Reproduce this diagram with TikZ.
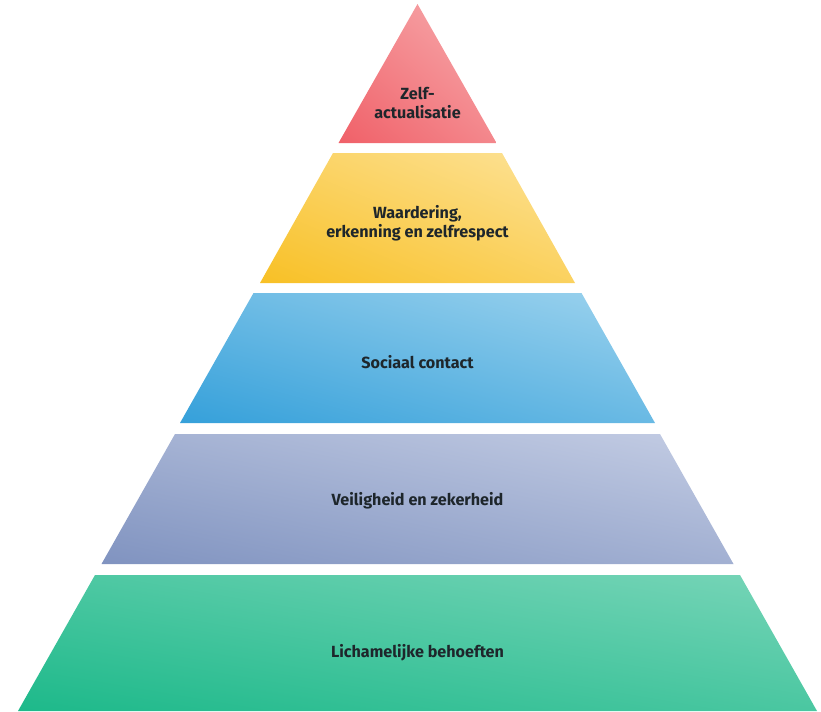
\documentclass[tikz,border=0pt]{standalone}
\usepackage{fontspec}
\setmainfont{Fira Sans}
\usepackage{tikz}
\usetikzlibrary{shadings}
\definecolor{redDark}{HTML}{F06068}
\definecolor{redLight}{HTML}{F7AEB0}
\definecolor{yellowDark}{HTML}{F8C025}
\definecolor{yellowLight}{HTML}{FDE39A}
\definecolor{blueDark}{HTML}{35A0DA}
\definecolor{blueLight}{HTML}{9DD3EE}
\definecolor{greyDark}{HTML}{8093C0}
\definecolor{greyLight}{HTML}{C4CDE4}
\definecolor{greenDark}{HTML}{1DB98A}
\definecolor{greenLight}{HTML}{78D5B8}
\definecolor{textDark}{HTML}{1E262B}
\tikzset{
    redLevel/.style={lower left=redDark, upper right=redLight, upper left=redDark!50!redLight, lower right=redDark!50!redLight},
    yellowLevel/.style={lower left=yellowDark, upper right=yellowLight, upper left=yellowDark!50!yellowLight, lower right=yellowDark!50!yellowLight},
    blueLevel/.style={lower left=blueDark, upper right=blueLight, upper left=blueDark!50!blueLight, lower right=blueDark!50!blueLight},
    greyLevel/.style={lower left=greyDark, upper right=greyLight, upper left=greyDark!50!greyLight, lower right=greyDark!50!greyLight},
    greenLevel/.style={lower left=greenDark, upper right=greenLight, upper left=greenDark!50!greenLight, lower right=greenDark!50!greenLight},
    levelText/.style={font=\fontsize{9.2}{10.6}\selectfont\bfseries, text=textDark, align=center}
}
\begin{document}
\begin{tikzpicture}[x=0.02cm, y=-0.02cm]
    \useasboundingbox (0,0) rectangle (821,711);

    \shade[redLevel] (417.5,4) -- (496.5,143) -- (338.5,143) -- cycle;
    \shade[yellowLevel] (333,153) -- (502,153) -- (575,283) -- (260,283) -- cycle;
    \shade[blueLevel] (253.5,293) -- (581.5,293) -- (655,423) -- (180,423) -- cycle;
    \shade[greyLevel] (175,434) -- (660,434) -- (733.5,564) -- (101.5,564) -- cycle;
    \shade[greenLevel] (95,575) -- (740,575) -- (817,711) -- (18,711) -- cycle;

    \node (001) [levelText] at (417.5,103) {Zelf-\\actualisatie};
    \node (002) [levelText] at (417.5,223) {Waardering,\\erkenning en zelfrespect};
    \node (003) [levelText] at (417.5,362) {Sociaal contact};
    \node (004) [levelText] at (417.5,501) {Veiligheid en zekerheid};
    \node (005) [levelText] at (417.5,653) {Lichamelijke behoeften};

\end{tikzpicture}
\end{document}
